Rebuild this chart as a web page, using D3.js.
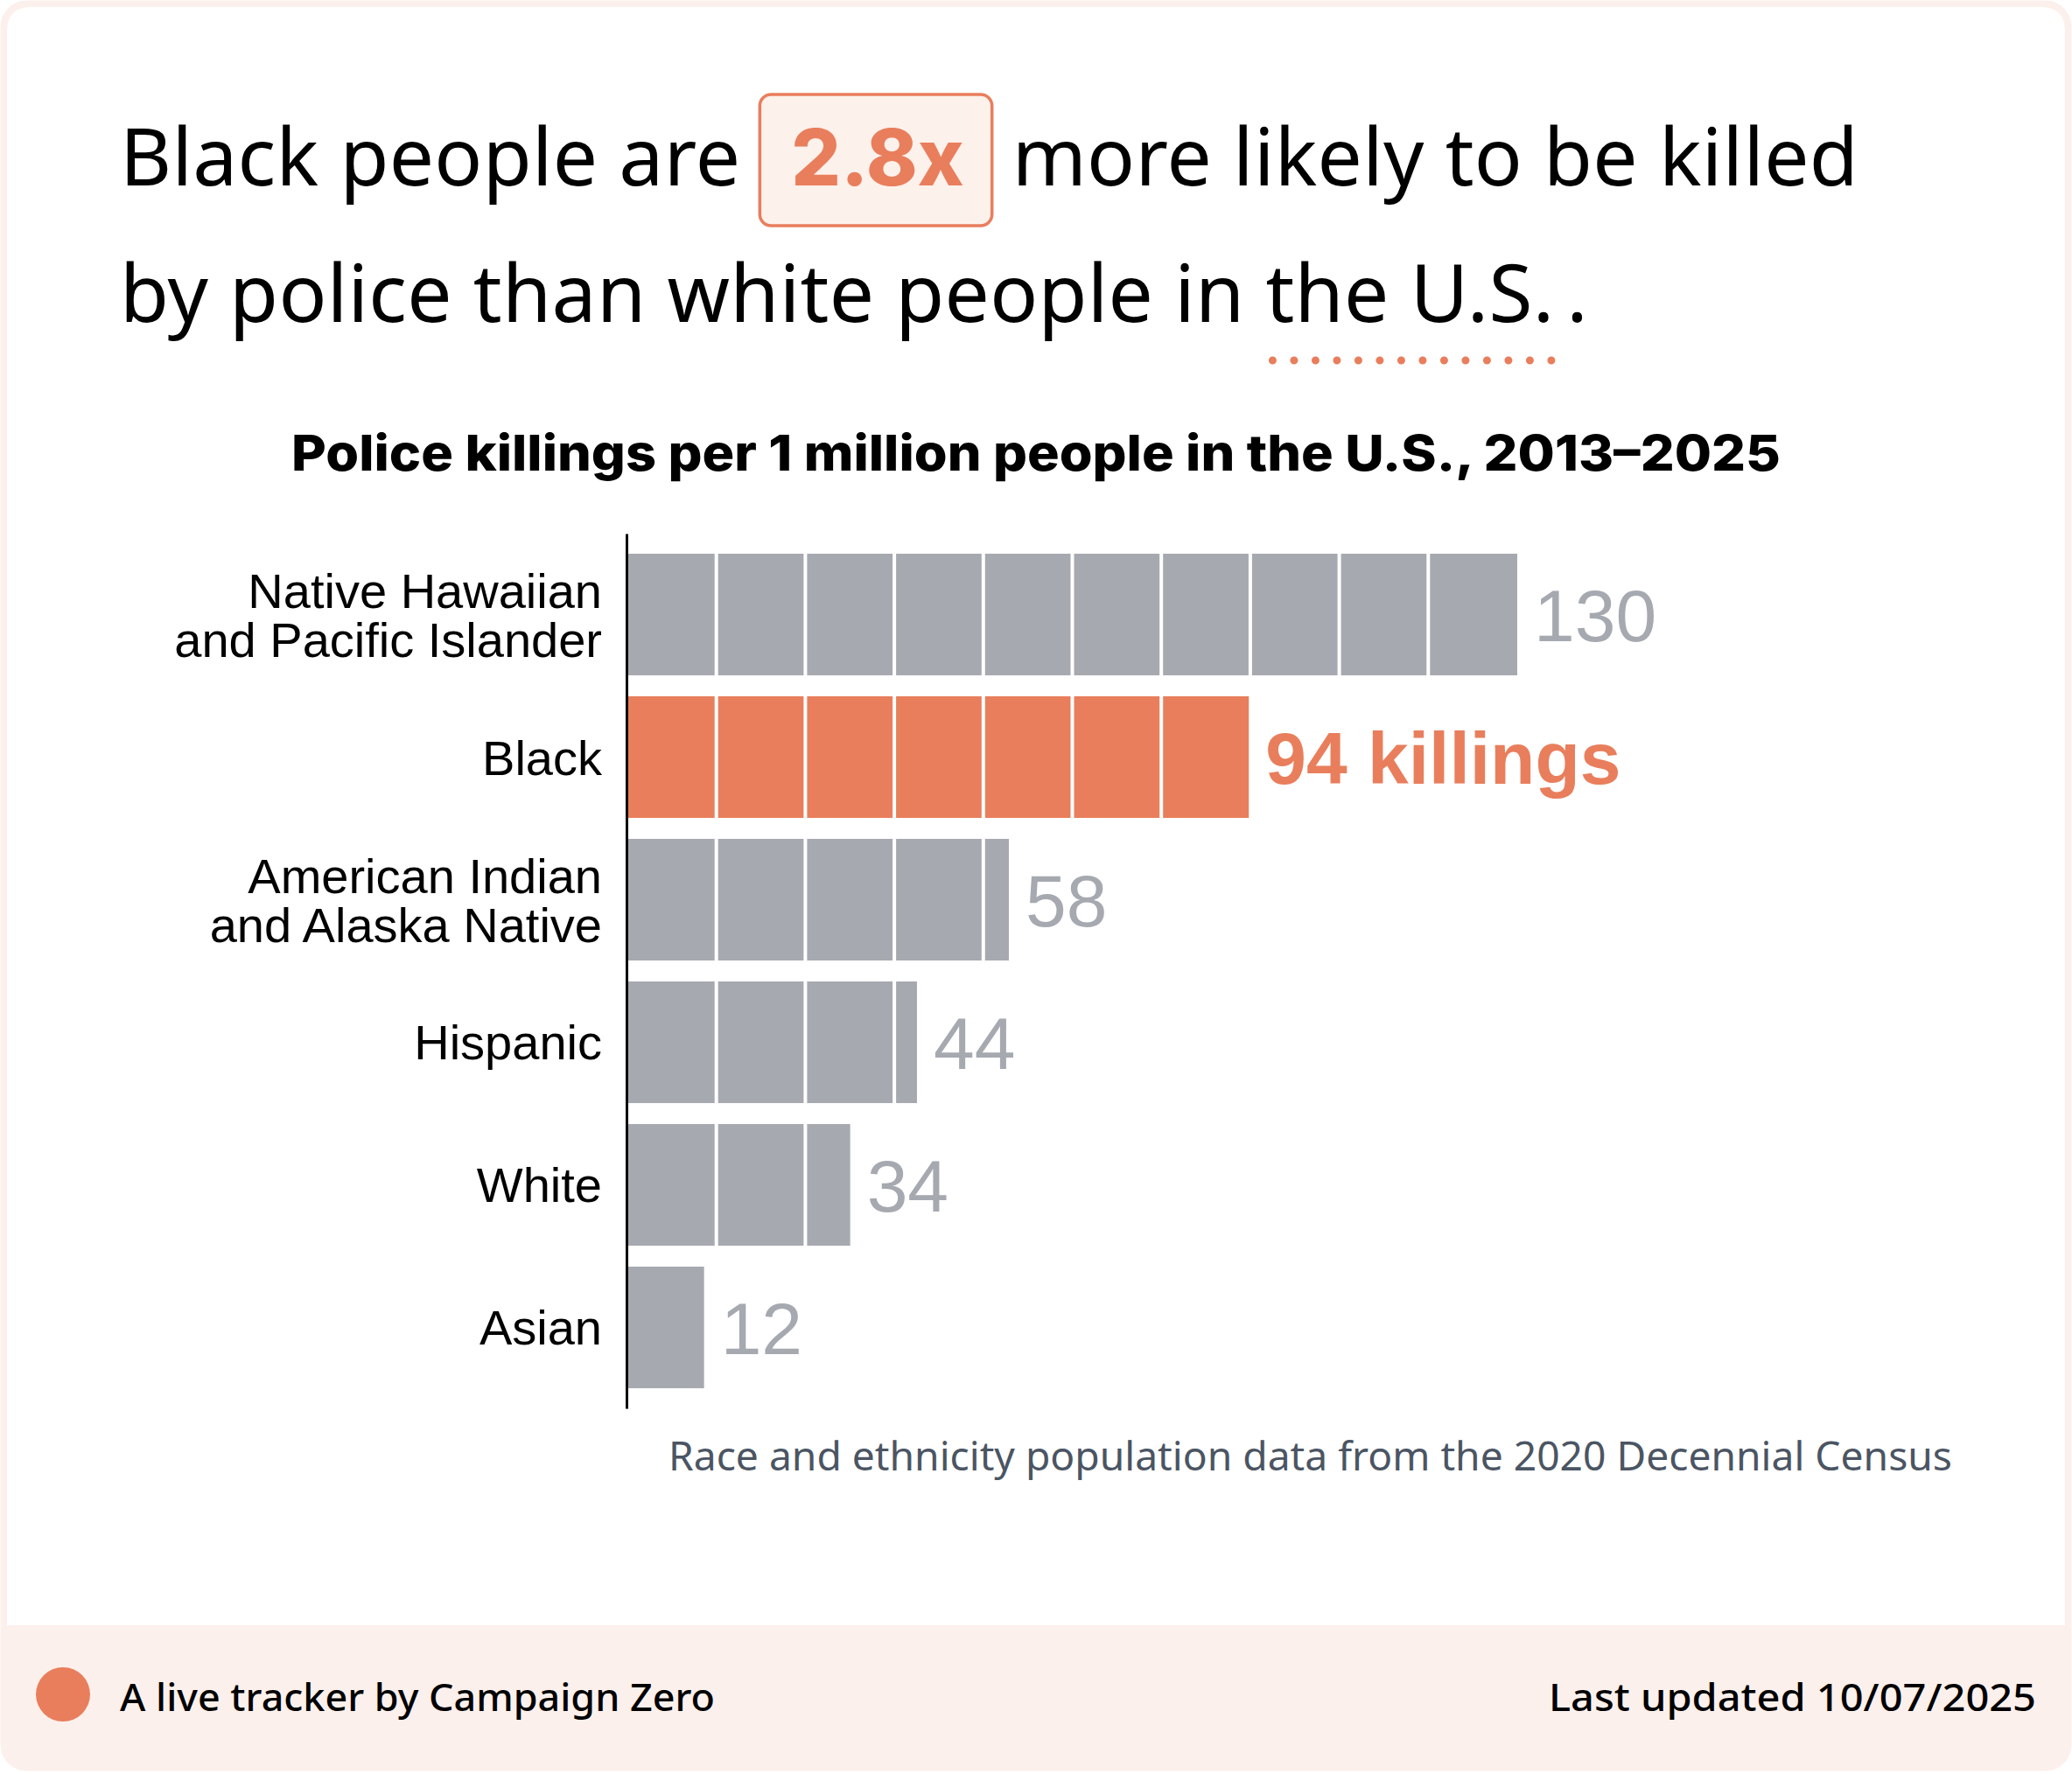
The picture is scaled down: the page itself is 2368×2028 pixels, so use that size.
<!DOCTYPE html>
<html>
<head>
  <meta charset="utf-8">
  <script src="https://d3js.org/d3.v7.min.js"></script>
  <style>
    body { margin: 0; background: #ffffff; }
    .head { font-family: "Noto Sans", sans-serif; }
    .bar-label { font-family: "Liberation Sans", Arial, sans-serif; }
    .axis text { font-family: "Liberation Sans", Arial, sans-serif; font-size: 56px; fill: #000; }
  </style>
</head>
<body>
<div id="chartArea"></div>
<script>
  // data
  var groups = ["Native Hawaiian\nand Pacific Islander", "Black", "American Indian\nand Alaska Native", "Hispanic", "White", "Asian"];
  var killings = [134.6, 94, 57.7, 43.8, 33.7, 11.6];
  var highlight = "Black";
  var segments = 10;   // top bar is cut in ten equal blocks

  var w = 2368, h = 2028;
  var orange = "#e97e5c", grey = "#a6a9b0", pink = "#fcf0ec";

  var dataset = groups.map(function(g, i) { return { group: g, value: killings[i] }; });

  var svg = d3.select("#chartArea").append("svg")
    .attr("width", w)
    .attr("height", h);

  // card + footer
  svg.append("rect").attr("x", 0.5).attr("y", 0.5).attr("width", w - 1).attr("height", h - 4)
    .attr("rx", 30).attr("fill", pink);
  var cx0 = 8, cx1 = w - 8, cy0 = 8, cy1 = 1858, r = 28;
  svg.append("path")
    .attr("d", "M" + cx0 + "," + cy1 + "V" + (cy0 + r) + "Q" + cx0 + "," + cy0 + " " + (cx0 + r) + "," + cy0 +
               "H" + (cx1 - r) + "Q" + cx1 + "," + cy0 + " " + cx1 + "," + (cy0 + r) + "V" + cy1 + "Z")
    .attr("fill", "#ffffff");

  // headline, line 1
  var t1 = svg.append("text").attr("class", "head").attr("x", 137).attr("y", 212)
    .style("font-size", "91px").style("letter-spacing", "0.3px").style("fill", "#000")
    .text("Black people are");
  var end1 = 137 + t1.node().getComputedTextLength();

  var boxX = end1 + 22;
  var big = svg.append("text").attr("y", 212)
    .style("font-family", "Inter, sans-serif").style("font-weight", 800).style("font-size", "89px")
    .style("fill", orange).text("2.8x");
  var bigW = big.node().getComputedTextLength();
  svg.insert("rect", "text:last-of-type")
    .attr("x", boxX).attr("y", 108).attr("width", bigW + 68).attr("height", 150)
    .attr("rx", 13).attr("fill", "#fdf1ec").attr("stroke", orange).attr("stroke-width", 3.5);
  big.attr("x", boxX + 36);

  svg.append("text").attr("class", "head").attr("x", boxX + bigW + 68 + 23).attr("y", 212)
    .style("font-size", "91px").style("letter-spacing", "0.3px").style("fill", "#000")
    .text("more likely to be killed");

  // headline, line 2
  var t2 = svg.append("text").attr("class", "head").attr("x", 137).attr("y", 368)
    .style("font-size", "91px").style("letter-spacing", "0.3px").style("fill", "#000");
  t2.append("tspan").text("by police than white people in ");
  t2.append("tspan").text("the U.S.");
  t2.append("tspan").attr("dx", 14).text(".");
  var n2 = t2.node();
  var s0 = "by police than white people in ".length;
  var uStart = n2.getStartPositionOfChar(s0).x;
  var uEnd = n2.getEndPositionOfChar(s0 + "the U.S.".length - 1).x;
  svg.append("line")
    .attr("x1", uStart + 8).attr("x2", uEnd + 12).attr("y1", 412).attr("y2", 412)
    .attr("stroke", orange).attr("stroke-width", 9).attr("stroke-linecap", "round")
    .attr("stroke-dasharray", "0,24.5");

  // chart subtitle
  svg.append("text").attr("x", w / 2).attr("y", 538).attr("text-anchor", "middle")
    .style("font-family", "Inter, sans-serif").style("font-weight", 800).style("font-size", "57px")
    .attr("textLength", 1702).attr("lengthAdjust", "spacingAndGlyphs")
    .text("Police killings per 1 million people in the U.S., 2013–2025");

  // scales
  var xScale = d3.scaleLinear().domain([0, d3.max(killings)]).range([717, 1734]);
  var yScale = d3.scaleBand().domain(groups).range([610, 1610])
    .paddingInner(0.147).paddingOuter(0.141);

  var bars = svg.append("g").selectAll("g.bar").data(dataset).enter().append("g").attr("class", "bar");

  bars.append("rect")
    .attr("x", xScale(0))
    .attr("y", function(d) { return yScale(d.group); })
    .attr("width", function(d) { return xScale(d.value) - xScale(0); })
    .attr("height", yScale.bandwidth())
    .attr("fill", function(d) { return d.group === highlight ? orange : grey; });

  // white cuts between blocks
  var step = d3.max(killings) / segments;
  bars.each(function(d) {
    var cuts = d3.range(1, segments).map(function(k) { return k * step; })
      .filter(function(c) { return c < d.value - 0.5; });
    d3.select(this).selectAll("line").data(cuts).enter().append("line")
      .attr("x1", function(c) { return xScale(c); })
      .attr("x2", function(c) { return xScale(c); })
      .attr("y1", yScale(d.group))
      .attr("y2", yScale(d.group) + yScale.bandwidth())
      .attr("stroke", "#ffffff").attr("stroke-width", 4);
  });

  var fmt = d3.format(".2r");
  bars.append("text")
    .attr("class", "bar-label")
    .attr("x", function(d) { return xScale(d.value) + 19; })
    .attr("y", function(d) { return yScale(d.group) + yScale.bandwidth() / 2; })
    .attr("dy", "0.36em")
    .style("font-size", "84px")
    .style("font-weight", function(d) { return d.group === highlight ? "bold" : "normal"; })
    .style("fill", function(d) { return d.group === highlight ? orange : grey; })
    .text(function(d) { return d.group === highlight ? fmt(d.value) + " killings" : fmt(d.value); });

  // y axis
  var yAxis = d3.axisLeft(yScale).tickSize(0).tickPadding(28);
  var ax = svg.append("g").attr("class", "axis")
    .attr("transform", "translate(" + 716 + ",0)")
    .call(yAxis);
  ax.select(".domain").attr("stroke", "#000").attr("stroke-width", 3);
  ax.selectAll(".tick text").each(function(d) {
    var lines = d.split("\n");
    var el = d3.select(this).text("").attr("dy", null).attr("y", 0);
    lines.forEach(function(l, i) {
      el.append("tspan").attr("x", -28)
        .attr("y", 20 - (lines.length - 1) * 28 + i * 56)
        .text(l);
    });
  });

  // note
  svg.append("text").attr("class", "head").attr("x", 764).attr("y", 1681)
    .style("font-size", "45px").style("fill", "#4b5563")
    .attr("textLength", 1467).attr("lengthAdjust", "spacingAndGlyphs")
    .text("Race and ethnicity population data from the 2020 Decennial Census");

  // footer
  svg.append("circle").attr("cx", 72).attr("cy", 1937).attr("r", 31).attr("fill", orange);
  svg.append("text").attr("class", "head").attr("x", 137).attr("y", 1956)
    .style("font-size", "44px").style("font-weight", 500).style("fill", "#000")
    .attr("textLength", 680).attr("lengthAdjust", "spacingAndGlyphs")
    .text("A live tracker by Campaign Zero");
  svg.append("text").attr("class", "head").attr("x", 1770).attr("y", 1956)
    .style("font-size", "44px").style("font-weight", 500).style("fill", "#000")
    .attr("textLength", 557).attr("lengthAdjust", "spacingAndGlyphs")
    .text("Last updated 10/07/2025");
</script>
</body>
</html>
